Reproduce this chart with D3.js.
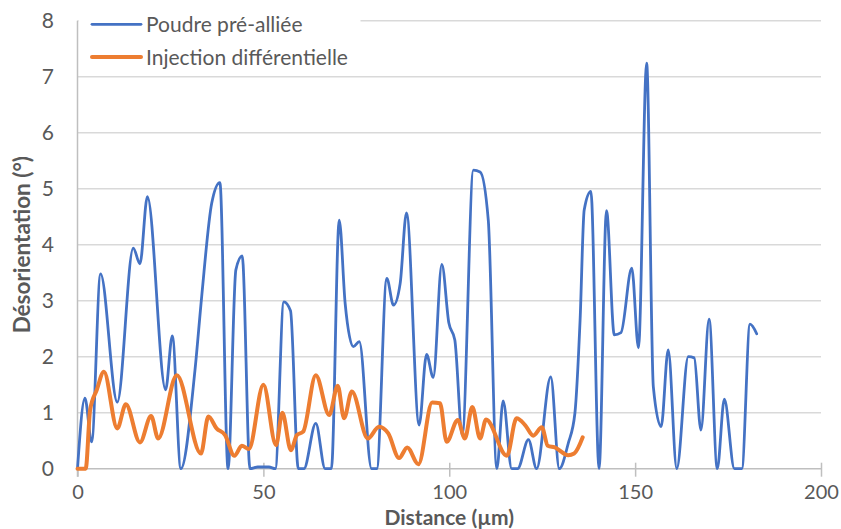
<!DOCTYPE html>
<html>
<head>
<meta charset="utf-8">
<script src="https://cdn.jsdelivr.net/npm/d3@7"></script>
<style>
  html, body { margin: 0; padding: 0; background: #fff; }
  svg { display: block; font-family: Lato, "Open Sans", sans-serif; }
</style>
</head>
<body>
<svg id="chart" width="841" height="529"></svg>
<script>
// Misorientation profiles along a line scan
const seriesNames = ["Poudre pré-alliée", "Injection différentielle"];
const seriesColors = ["#4472C4", "#ED7D31"];

const distancePoudre = [0, 2.0, 3.8, 6.2, 10.7, 15.0, 16.8, 18.8, 23.7, 25.5, 27.8, 31.6, 33.4, 36.1, 38.3, 40.5,
  42.6, 44.3, 46.4, 48.5, 51.5, 53.2, 55.5, 57.3, 59.4, 60.9, 64.1, 66.6, 68.3, 70.4, 72.0, 74.2, 75.8,
  79.1, 80.5, 83.2, 85.0, 86.8, 88.5, 91.9, 93.9, 95.7, 98.0, 99.9, 101.5, 103.5, 106.5, 108.3, 110.5,
  112.8, 114.5, 116.8, 118.4, 121.3, 123.5, 127.3, 129.6, 132.0, 133.8, 135.2, 136.3, 138.1, 140.3,
  142.3, 144.4, 146.2, 149.1, 150.9, 153.1, 154.9, 157.0, 158.9, 161.2, 164.3, 165.9, 167.7, 169.9,
  172.1, 174.0, 176.7, 178.7, 180.9, 182.7];
const poudreValues = [0, 1.26, 0.48, 3.48, 1.19, 3.94, 3.66, 4.86, 1.41, 2.37, 0, 1.76, 3.07, 4.74, 5.11, 0,
  3.55, 3.80, 0, 0.03, 0.03, 0, 2.98, 2.82, 0, 0, 0.81, 0, 0, 4.44, 2.95, 2.18, 2.27,
  0, 0, 3.40, 2.92, 3.31, 4.57, 0.78, 2.04, 1.63, 3.65, 2.60, 2.30, 0.60, 5.33, 5.30, 4.44,
  0, 1.21, 0, 0, 0.52, 0, 1.64, 0, 0.45, 0.99, 2.66, 4.62, 4.95, 0,
  4.61, 2.39, 2.43, 3.58, 2.16, 7.24, 1.46, 0.75, 2.12, 0, 2.0, 1.98, 0.69, 2.67,
  0, 1.24, 0, 0, 2.58, 2.41];

const distanceInjection = [0, 2.2, 3.4, 5.2, 7.1, 10.7, 13.0, 16.8, 19.8, 21.7, 26.7, 33.2, 35.2, 37.4, 39.7,
  42.2, 44.2, 46.1, 50.0, 53.4, 55.1, 57.4, 59.0, 60.7, 64.1, 67.7, 70.0, 71.7, 73.8, 78.1, 81.1,
  83.6, 86.5, 88.7, 91.7, 95.4, 97.5, 99.3, 102.3, 104.2, 106.2, 108.3, 109.9, 115.5, 118.1, 120.4,
  122.6, 124.9, 126.5, 128.4, 132.0, 133.6, 135.9];
const injectionValues = [0, 0, 1.05, 1.41, 1.73, 0.72, 1.15, 0.47, 0.94, 0.54, 1.67, 0.27, 0.93, 0.72, 0.60,
  0.23, 0.41, 0.35, 1.50, 0.42, 1.0, 0.33, 0.6, 0.66, 1.67, 0.96, 1.48, 0.90, 1.38, 0.54, 0.75,
  0.63, 0.19, 0.38, 0.08, 1.18, 1.17, 0.48, 0.87, 0.54, 1.10, 0.54, 0.88, 0.23, 0.90, 0.78,
  0.59, 0.74, 0.41, 0.38, 0.24, 0.27, 0.56];

const xTicks = [0, 50, 100, 150, 200];
const yTicks = [0, 1, 2, 3, 4, 5, 6, 7, 8];
const xTitle = "Distance (µm)";
const yTitle = "Désorientation (°)";

const svg = d3.select("#chart");
const plot = { left: 77.5, right: 821, top: 20.7, bottom: 468.7 };

const x = d3.scaleLinear().domain([0, 200]).range([plot.left, plot.right]);
const y = d3.scaleLinear().domain([0, 8]).range([plot.bottom, plot.top]);

// horizontal gridlines
svg.append("g")
  .selectAll("line")
  .data(yTicks.filter(d => d > 0))
  .join("line")
  .attr("x1", plot.left).attr("x2", plot.right)
  .attr("y1", d => y(d)).attr("y2", d => y(d))
  .attr("stroke", "#d9d9d9").attr("stroke-width", 1.4);

// y tick labels
svg.append("g")
  .selectAll("text")
  .data(yTicks)
  .join("text")
  .attr("x", 54).attr("y", d => y(d))
  .attr("dy", "0.36em")
  .attr("text-anchor", "end")
  .attr("fill", "#595959").attr("font-size", 21)
  .text(d => d);

// x axis with ticks crossing the line
const xAxis = d3.axisBottom(x).tickValues(xTicks).tickSize(0).tickPadding(0);
const gx = svg.append("g").attr("transform", `translate(0,${plot.bottom})`).call(xAxis);
gx.select(".domain").remove();
gx.selectAll(".tick text")
  .attr("y", 16)
  .attr("fill", "#595959").attr("font-size", 20)
  .attr("font-family", "Lato, 'Open Sans', sans-serif");
gx.selectAll(".tick").append("line")
  .attr("y1", -6).attr("y2", 8)
  .attr("stroke", "#bfbfbf").attr("stroke-width", 1.5);

// data lines
const series = [
  { name: seriesNames[0], color: seriesColors[0], width: 2.8,
    pts: distancePoudre.map((d, i) => [d, poudreValues[i]]) },
  { name: seriesNames[1], color: seriesColors[1], width: 4,
    pts: distanceInjection.map((d, i) => [d, injectionValues[i]]) }
];
const line = d3.line()
  .x(d => x(d[0])).y(d => y(d[1]))
  .curve(d3.curveMonotoneX);

// legend background masks the top gridline
svg.append("rect")
  .attr("x", plot.left + 1).attr("y", 6)
  .attr("width", 282).attr("height", 66)
  .attr("fill", "#fff");

// axis lines
svg.append("line")
  .attr("x1", plot.left).attr("x2", plot.right)
  .attr("y1", plot.bottom).attr("y2", plot.bottom)
  .attr("stroke", "#bfbfbf").attr("stroke-width", 1.5);
svg.append("line")
  .attr("x1", plot.left).attr("x2", plot.left)
  .attr("y1", plot.top).attr("y2", plot.bottom + 8)
  .attr("stroke", "#bfbfbf").attr("stroke-width", 1.5);

svg.append("g")
  .selectAll("path")
  .data(series)
  .join("path")
  .attr("d", d => line(d.pts))
  .attr("fill", "none")
  .attr("stroke", d => d.color)
  .attr("stroke-width", d => d.width)
  .attr("stroke-linejoin", "round")
  .attr("stroke-linecap", "round");

// legend
const legend = svg.append("g");
const legendRows = [24.3, 57];
series.forEach((s, i) => {
  legend.append("line")
    .attr("x1", 92).attr("x2", 141)
    .attr("y1", legendRows[i]).attr("y2", legendRows[i])
    .attr("stroke", s.color).attr("stroke-width", s.width)
    .attr("stroke-linecap", "round");
  legend.append("text")
    .attr("x", 146).attr("y", legendRows[i])
    .attr("dy", "0.36em")
    .attr("fill", "#595959").attr("font-size", 21)
    .text(s.name);
});

// axis titles
svg.append("text")
  .attr("x", (plot.left + plot.right) / 2).attr("y", 517)
  .attr("dy", "0.36em")
  .attr("text-anchor", "middle")
  .attr("font-weight", "bold").attr("font-size", 21)
  .attr("fill", "#595959")
  .text(xTitle);
svg.append("text")
  .attr("transform", `translate(22,${(plot.top + plot.bottom) / 2}) rotate(-90)`)
  .attr("dy", "0.36em")
  .attr("text-anchor", "middle")
  .attr("font-weight", "bold").attr("font-size", 22.5)
  .attr("fill", "#595959")
  .text(yTitle);
</script>
</body>
</html>
